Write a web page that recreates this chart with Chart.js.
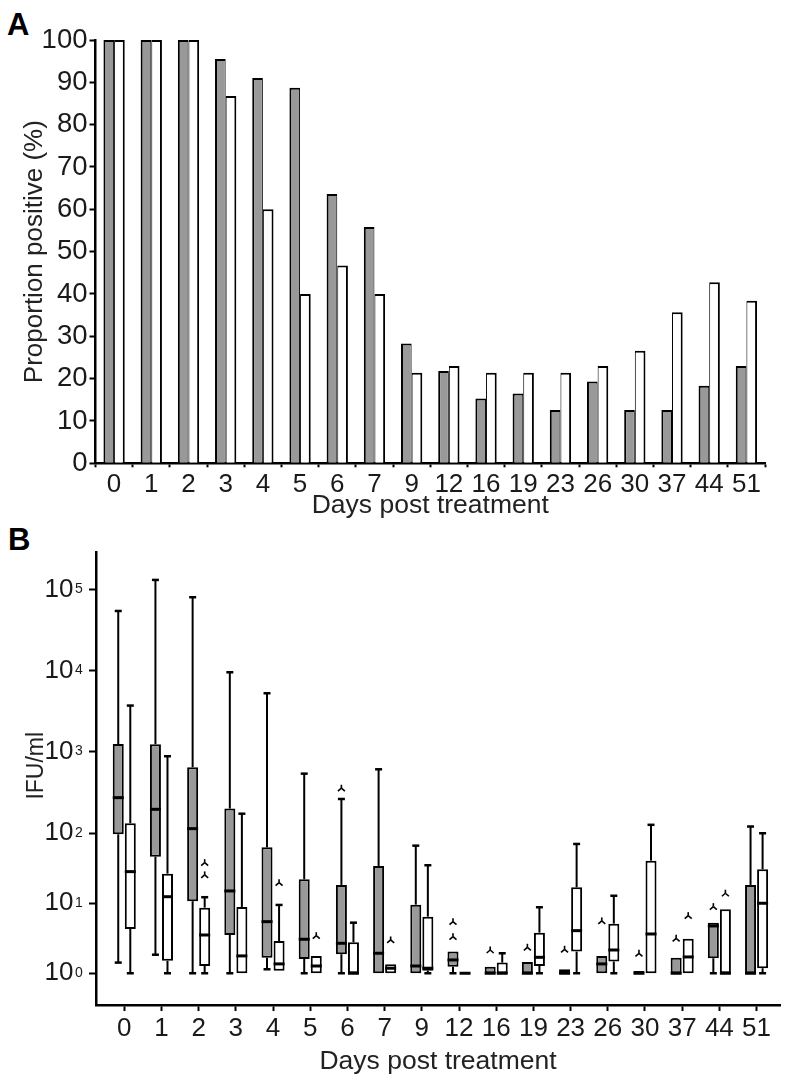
<!DOCTYPE html>
<html>
<head>
<meta charset="utf-8">
<script src="https://cdn.jsdelivr.net/npm/chart.js@4.4.1/dist/chart.umd.min.js"></script>
<style>
  body { margin: 0; background: #fff; width: 788px; height: 1083px; position: relative; overflow: hidden; }
  .panel { position: absolute; font: bold 31px "Liberation Sans", Arial, sans-serif; line-height: 1; color: #000; }
  #wrapA { position: absolute; left: 0; top: 0; width: 788px; height: 522px; }
  #wrapB { position: absolute; left: 0; top: 520px; width: 788px; height: 558px; }
</style>
</head>
<body>
<div class="panel" style="left:7px;top:9px">A</div>
<div class="panel" style="left:8px;top:524px">B</div>
<div id="wrapA"><canvas id="chartA" width="788" height="522"></canvas></div>
<div id="wrapB"><canvas id="chartB" width="788" height="558"></canvas></div>
<script>
const days = ['0', '1', '2', '3', '4', '5', '6', '7', '9', '12', '16', '19', '23', '26', '30', '37', '44', '51'];

// panel A: proportion positive (%)
const positiveGray  = [100, 100, 100, 95.5, 91.0, 88.7, 63.6, 55.8, 28.3, 21.8, 15.3, 16.5, 12.6, 19.3, 12.6, 12.6, 18.3, 23.0];
const positiveWhite = [100, 100, 100, 86.8, 60.0, 40.0, 46.7, 40.0, 21.4, 23.0, 21.4, 21.4, 21.4, 23.0, 26.6, 35.7, 42.8, 38.4];

// panel B: IFU/ml box plots
const grayMin = [1.42, 1.84, 1.0, 1.0, 1.14, 1.0, 1.0, 1.0, 1.0, 1.0, 1.0, 1.0, 1.0, 1.0, 1.0, 1.0, 1.0, 1.0];
const grayQ1  = [96.7, 46.3, 10.7, 3.52, 1.67, 1.6, 1.87, 1.0, 1.0, 1.24, 1.0, 1.0, 1.0, 1.0, 1.0, 1.0, 1.64, 1.0];
const grayMed = [274, 197, 114, 15.0, 5.46, 3.06, 2.68, 1.93, 1.27, 1.55, 1.0, 1.0, 1.0, 1.36, 1.0, 1.0, 4.74, 1.0];
const grayQ3  = [1250, 1245, 649, 201, 63, 22.0, 18.3, 34.1, 9.55, 2.04, 1.24, 1.45, 1.14, 1.77, 1.08, 1.67, 5.28, 18.3];
const grayMax = [54200, 130600, 80000, 9550, 5270, 541, 264, 612, 66.5, 2.04, 1.24, 1.45, 1.14, 1.77, 1.08, 1.67, 5.28, 121];
const grayOut = [[], [], [], [], [], [], [358], [], [], [5.46, 3.33], [2.15], [2.35], [2.2], [5.59], [1.93], [3.16], [8.95], []];

const whiteMin = [1.0, 1.0, 1.0, 1.0, 1.09, 1.0, 1.0, 1.0, 1.0, 1.0, 1.0, 1.0, 1.0, 1.0, 1.0, 1.0, 1.0, 1.0];
const whiteQ1  = [4.3, 1.51, 1.27, 1.0, 1.09, 1.0, 1.0, 1.0, 1.09, 1.0, 1.0, 1.27, 2.04, 1.47, 1.0, 1.0, 1.0, 1.18];
const whiteMed = [28.3, 12.4, 3.52, 1.77, 1.36, 1.27, 1.0, 1.18, 1.18, 1.0, 1.0, 1.69, 4.06, 2.15, 3.64, 1.71, 1.0, 10];
const whiteQ3  = [133, 26.5, 8.65, 8.85, 2.89, 1.77, 2.77, 1.35, 6.44, 1.0, 1.42, 3.8, 16.9, 5.11, 40.6, 3.12, 8.2, 30.6];
const whiteMax = [3720, 886, 12.2, 174, 9.46, 1.77, 5.28, 1.35, 34.9, 1.0, 1.93, 8.77, 70.3, 12.8, 127, 3.12, 8.2, 100];
const whiteOut = [[], [], [38, 25.4], [], [19.7], [3.44], [], [2.99], [], [], [], [], [], [], [], [6.65], [13.9], []];

const logTicks = [0, 1, 2, 3, 4, 5];

const GRAY = '#999999';
const INK = '#1a1a1a';
const FONT = '"Liberation Sans", Arial, sans-serif';
Chart.defaults.font.family = FONT;
Chart.defaults.color = INK;

// the figure's log axis is uneven: the two lowest decades are drawn shorter
const decadeHeights = [70, 70, 81.3, 81.3, 81.3];
function warp(u) {
  const n = decadeHeights.length;
  if (u < 0) return u * decadeHeights[0];
  let w = 0;
  for (let k = 0; k < n && u > k; k++) w += Math.min(1, u - k) * decadeHeights[k];
  if (u > n) w += (u - n) * decadeHeights[n - 1];
  return w;
}
function unwarp(w) {
  if (w < 0) return w / decadeHeights[0];
  let u = 0;
  for (let k = 0; k < decadeHeights.length; k++) {
    if (w <= decadeHeights[k]) return u + w / decadeHeights[k];
    w -= decadeHeights[k]; u++;
  }
  return u + w / decadeHeights[decadeHeights.length - 1];
}

class WarpedLogScale extends Chart.LogarithmicScale {
  getPixelForValue(value) {
    if (value === undefined || value === null || isNaN(value)) return NaN;
    const a = warp(Math.log10(this.min)), b = warp(Math.log10(this.max));
    return this.getPixelForDecimal((warp(Math.log10(value)) - a) / (b - a));
  }
  getValueForPixel(pixel) {
    const a = warp(Math.log10(this.min)), b = warp(Math.log10(this.max));
    return Math.pow(10, unwarp(a + this.getDecimalForPixel(pixel) * (b - a)));
  }
}
WarpedLogScale.id = 'warpedLog';
WarpedLogScale.defaults = Chart.LogarithmicScale.defaults;
Chart.register(WarpedLogScale);

// ---------- panel A ----------
new Chart(document.getElementById('chartA'), {
  type: 'bar',
  data: {
    labels: days,
    datasets: [
      { data: positiveGray, backgroundColor: GRAY, borderColor: '#000',
        borderWidth: { top: 2, left: 2, right: 1, bottom: 0 }, categoryPercentage: 0.573, barPercentage: 1 },
      { data: positiveWhite, backgroundColor: '#fff', borderColor: '#000',
        borderWidth: { top: 2, left: 1, right: 2, bottom: 0 }, categoryPercentage: 0.573, barPercentage: 1 }
    ]
  },
  options: {
    responsive: false,
    animation: false,
    events: [],
    layout: { padding: { left: 19, top: 40, right: 23, bottom: 0 } },
    plugins: { legend: { display: false }, tooltip: { enabled: false } },
    scales: {
      x: {
        grid: { offset: true, drawOnChartArea: false, tickLength: 4, tickColor: '#000', tickWidth: 2 },
        border: { color: '#000', width: 2.5 },
        ticks: { font: { size: 26 }, padding: 2, maxRotation: 0, autoSkip: false },
        title: { display: true, text: 'Days post treatment', font: { size: 26.5 }, padding: 0, color: '#222' },
        afterFit: s => { s.height = 58.7; }
      },
      y: {
        min: 0, max: 100,
        grid: { drawOnChartArea: false, tickLength: 6, tickColor: '#000', tickWidth: 2 },
        border: { color: '#000', width: 2.5 },
        ticks: { stepSize: 10, font: { size: 27.5 }, padding: 2 },
        title: { display: true, text: 'Proportion positive (%)', font: { size: 26 }, padding: 0, color: '#222' },
        afterFit: s => { s.width = 76.5; }
      }
    }
  }
});

// ---------- panel B ----------
const boxSeries = [
  { min: grayMin, med: grayMed, max: grayMax, q1: grayQ1, q3: grayQ3, out: grayOut },
  { min: whiteMin, med: whiteMed, max: whiteMax, q1: whiteQ1, q3: whiteQ3, out: whiteOut }
];

function seg(ctx, x1, y1, x2, y2) {
  ctx.beginPath(); ctx.moveTo(x1, y1); ctx.lineTo(x2, y2); ctx.stroke();
}

const boxExtras = {
  id: 'boxExtras',
  afterDatasetsDraw(chart) {
    const ctx = chart.ctx, y = chart.scales.y;
    ctx.save();
    ctx.strokeStyle = '#000';
    boxSeries.forEach((s, d) => {
      chart.getDatasetMeta(d).data.forEach((bar, i) => {
        const x = bar.x, half = bar.width / 2;
        const yQ1 = y.getPixelForValue(s.q1[i]), yQ3 = y.getPixelForValue(s.q3[i]);
        ctx.lineWidth = 2;
        if (s.max[i] > s.q3[i]) {
          const yMax = y.getPixelForValue(s.max[i]);
          seg(ctx, x, yQ3, x, yMax);
          ctx.lineWidth = 2.5; seg(ctx, x - 3.5, yMax, x + 3.5, yMax); ctx.lineWidth = 2;
        }
        if (s.min[i] < s.q1[i]) {
          const yMin = y.getPixelForValue(s.min[i]);
          seg(ctx, x, yQ1, x, yMin);
          ctx.lineWidth = 2.5; seg(ctx, x - 3.5, yMin, x + 3.5, yMin);
        }
        ctx.lineWidth = 3;
        const yMed = y.getPixelForValue(s.med[i]);
        seg(ctx, x - half, yMed, x + half, yMed);
        ctx.lineWidth = 1.6;
        s.out[i].forEach(v => {
          const yo = y.getPixelForValue(v);
          seg(ctx, x, yo - 3.5, x, yo);
          seg(ctx, x, yo, x - 3.5, yo + 3);
          seg(ctx, x, yo, x + 3.5, yo + 3);
        });
      });
    });
    ctx.restore();
  },
  // exponents for the 10^n tick labels
  afterDraw(chart) {
    const ctx = chart.ctx, s = chart.scales.y;
    ctx.save();
    ctx.fillStyle = INK;
    ctx.font = '14px ' + FONT;
    ctx.textAlign = 'left';
    ctx.textBaseline = 'alphabetic';
    s.ticks.forEach((t, i) => {
      ctx.fillText(String(logTicks[i]), s.right - 21, s.getPixelForTick(i) + 3.5);
    });
    ctx.restore();
  }
};

new Chart(document.getElementById('chartB'), {
  type: 'bar',
  data: {
    datasets: [
      { data: days.map((d, i) => ({ x: i, y: [grayQ1[i], grayQ3[i]] })), backgroundColor: GRAY, borderColor: '#000',
        borderWidth: 2, borderSkipped: false, categoryPercentage: 0.648, barPercentage: 0.913 },
      { data: days.map((d, i) => ({ x: i, y: [whiteQ1[i], whiteQ3[i]] })), backgroundColor: '#fff', borderColor: '#000',
        borderWidth: 2, borderSkipped: false, categoryPercentage: 0.648, barPercentage: 0.913 }
    ]
  },
  options: {
    responsive: false,
    animation: false,
    events: [],
    layout: { padding: { left: 23.3, top: 32, right: 8, bottom: 0 } },
    plugins: { legend: { display: false }, tooltip: { enabled: false } },
    scales: {
      x: {
        type: 'linear', min: -0.76, max: 17.63, offset: false,
        afterBuildTicks: s => { s.ticks = days.map((d, i) => ({ value: i })); },
        grid: { offset: false, drawOnChartArea: false, tickLength: 6, tickColor: '#000', tickWidth: 2 },
        border: { color: '#000', width: 2.5 },
        ticks: { font: { size: 26 }, padding: 2, maxRotation: 0, autoSkip: false, callback: v => days[v] },
        title: { display: true, text: 'Days post treatment', font: { size: 26.5 }, padding: 0, color: '#222' },
        afterFit: s => { s.height = 73; }
      },
      y: {
        type: 'warpedLog', min: 0.352, max: 288000, bounds: 'data',
        afterBuildTicks: s => { s.ticks = logTicks.map(e => ({ value: Math.pow(10, e) })); },
        grid: { drawOnChartArea: false, tickLength: 7, tickColor: '#000', tickWidth: 2 },
        border: { color: '#000', width: 2.5 },
        ticks: { font: { size: 26 }, padding: 15.5, callback: () => '10' },
        title: { display: true, text: '    IFU/ml', font: { size: 23 }, padding: 0, color: '#222' },
        afterFit: s => { s.width = 72.7; }
      }
    }
  },
  plugins: [boxExtras]
});
</script>
</body>
</html>
